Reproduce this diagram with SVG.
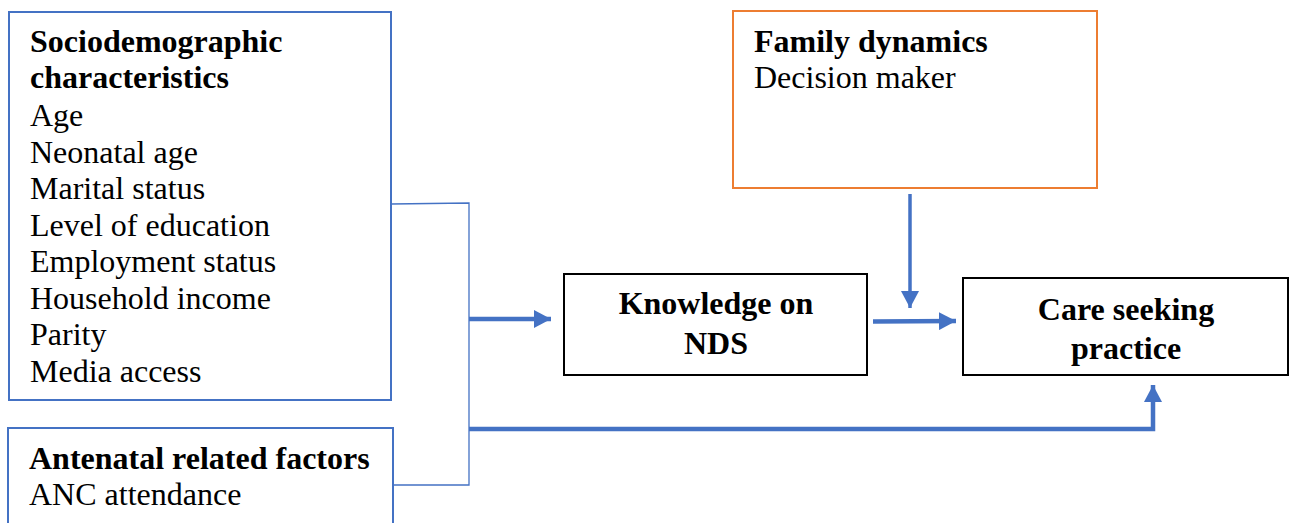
<svg xmlns="http://www.w3.org/2000/svg" width="1289" height="523" viewBox="0 0 1289 523">
<style>
text{font-family:"Liberation Serif","Times New Roman",serif;font-size:32px;fill:#000}
.b{font-weight:bold}
.bluebox{fill:#fff;stroke:#4472C4;stroke-width:2}
.blackbox{fill:#fff;stroke:#000;stroke-width:2}
.orangebox{fill:#fff;stroke:#ED7D31;stroke-width:2}
.thin{fill:none;stroke:#4472C4;stroke-width:1.3}
.thick{fill:none;stroke:#4472C4;stroke-width:4.5}
</style>
<defs>
<marker id="ah" markerUnits="userSpaceOnUse" markerWidth="18" markerHeight="18" refX="17" refY="9" orient="auto">
<path d="M0,0 L17,9 L0,18 Z" fill="#4472C4"/>
</marker>
</defs>
<rect width="1289" height="523" fill="#fff"/>
<g id="sociodemographic">
<rect class="bluebox" x="9" y="12" width="382" height="388"/>
<text x="30" y="52" class="b">Sociodemographic</text>
<text x="30" y="88" class="b">characteristics</text>
<text x="30" y="126">Age</text>
<text x="30" y="162.5">Neonatal age</text>
<text x="30" y="199">Marital status</text>
<text x="30" y="235.5">Level of education</text>
<text x="30" y="272">Employment status</text>
<text x="30" y="308.5">Household income</text>
<text x="30" y="345">Parity</text>
<text x="30" y="381.5">Media access</text>
</g>
<g id="antenatal">
<rect class="bluebox" x="8" y="428" width="385" height="110"/>
<text x="29" y="469" class="b">Antenatal related factors</text>
<text x="29" y="505">ANC attendance</text>
</g>
<g id="family">
<rect class="orangebox" x="733" y="11" width="364" height="177"/>
<text x="754" y="52" class="b">Family dynamics</text>
<text x="754" y="88">Decision maker</text>
</g>
<g id="knowledge">
<rect class="blackbox" x="564" y="274" width="303" height="101"/>
<text x="716" y="314" class="b" text-anchor="middle">Knowledge on</text>
<text x="716" y="354" class="b" text-anchor="middle">NDS</text>
</g>
<g id="care">
<rect class="blackbox" x="963" y="278" width="325" height="97"/>
<text x="1126" y="320" class="b" text-anchor="middle">Care seeking</text>
<text x="1126" y="359" class="b" text-anchor="middle">practice</text>
</g>
<g id="connectors">
<path class="thin" d="M391,204 L469,203 L469,485 L393,485"/>
<path class="thick" d="M469,319 L551,319" marker-end="url(#ah)"/>
<path class="thick" d="M469,429 L1153,429 L1153,385" marker-end="url(#ah)"/>
<path class="thick" d="M910,194 L910,308" style="stroke-width:3.5" marker-end="url(#ah)"/>
<path class="thick" d="M873,321.5 L956,321" marker-end="url(#ah)"/>
</g>
</svg>
